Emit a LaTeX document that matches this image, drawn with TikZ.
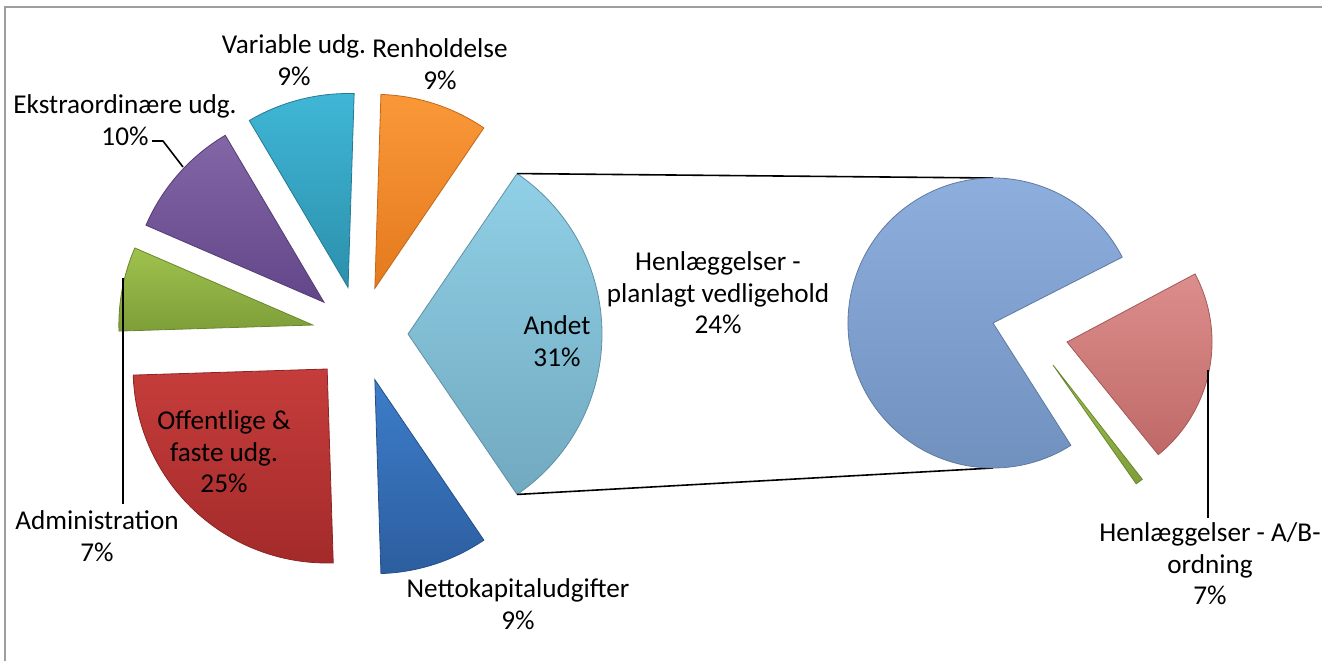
\documentclass[tikz,border=0pt]{standalone}
\usepackage{fontspec}
\setmainfont{Carlito}
\usetikzlibrary{calc}
\definecolor{andT}{HTML}{90D0E6}\definecolor{andB}{HTML}{71A9C0}
\definecolor{renT}{HTML}{FA9838}\definecolor{renB}{HTML}{E47A1E}
\definecolor{varT}{HTML}{40B6D6}\definecolor{varB}{HTML}{2B90AC}
\definecolor{eksT}{HTML}{8266A6}\definecolor{eksB}{HTML}{634689}
\definecolor{admT}{HTML}{9FC24E}\definecolor{admB}{HTML}{7E9E38}
\definecolor{offT}{HTML}{C53D3B}\definecolor{offB}{HTML}{A32A2A}
\definecolor{netT}{HTML}{3D7DCA}\definecolor{netB}{HTML}{2C5E9F}
\definecolor{plaT}{HTML}{90B0E0}\definecolor{plaB}{HTML}{7090BE}
\definecolor{abT}{HTML}{DC8E8C}\definecolor{abB}{HTML}{BF6967}
% slice: style, apex, from, to, radius, name (angles counted anticlockwise)
\newcommand\pslice[6]{%
  \coordinate (#6) at (#2);
  \coordinate (#6-1) at ($(#6)+({-(#3)}:#5)$);
  \coordinate (#6-2) at ($(#6)+({-(#4)}:#5)$);
  \path[#1] (#6) -- (#6-1) arc[start angle={-(#3)}, end angle={-(#4)}, radius=#5] -- cycle;}
% exploded slice of the main pie
\newcommand\mslice[4]{\pslice{#1}{$(C)+({-(#2+#3)/2}:48)$}{#2}{#3}{194}{#4}}
\begin{document}
\begin{tikzpicture}[x=0.5pt,y=-0.5pt,
  lbl/.style={align=center,font=\fontsize{13.6}{15.8}\selectfont,inner sep=0pt},
  lead/.style={line width=0.8pt},
  shd/.style 2 args={top color=#1,bottom color=#2,draw=#2!85!black,line width=0.4pt}]
\useasboundingbox (0,0) rectangle (1322,660);
\draw[black!38,line width=1pt](5,670)--(5,7)--(1330,7);
\coordinate (C) at (360,334);
\coordinate (C2) at (993,323);
\coordinate (pT) at ($(C2)+(-90:145)$);
\coordinate (pB) at ($(C2)+(90:145)$);
% main pie
\mslice{shd={andT}{andB}}{-55.8}{55.8}{sAnd}
\mslice{shd={renT}{renB}}{55.8}{88.2}{sRen}
\mslice{shd={varT}{varB}}{88.2}{120.6}{sVar}
\mslice{shd={eksT}{eksB}}{120.6}{156.6}{sEks}
\mslice{shd={admT}{admB}}{156.6}{181.8}{sAdm}
\mslice{shd={offT}{offB}}{181.8}{271.8}{sOff}
\mslice{shd={netT}{netB}}{271.8}{304.2}{sNet}
% second pie
\draw[lead] (sAnd-2) -- (pT);
\draw[lead] (sAnd-1) -- (pB);
\pslice{shd={plaT}{plaB}}{C2}{27}{302.5}{145}{sPla}
\pslice{shd={abT}{abB}}{1067,342}{-51}{28}{145}{sAB}
\pslice{shd={admT}{admB}}{1053,365}{-55}{-52}{145}{sRest}
% labels
\node[lbl] (nVar) at (294,60) {Variable udg.\\9\%};
\node[lbl] (nRen) at (440,64) {Renholdelse\\9\%};
\node[lbl] (nEks) at (125,120) {Ekstraordinære udg.\\10\%};
\node[lbl] (nAdm) at (97,536) {Administration\\7\%};
\node[lbl] (nOff) at (224,452) {Offentlige \&\\faste udg.\\25\%};
\node[lbl] (nNet) at (518,604) {Nettokapitaludgifter\\9\%};
\node[lbl] (nAnd) at (557,341) {Andet\\31\%};
\node[lbl] (nPla) at (718,293) {Henlæggelser -\\planlagt vedligehold\\24\%};
\node[lbl] (nAB) at (1210,564) {Henlæggelser - A/B-\\ordning\\7\%};
% leader lines
\coordinate (eksA) at (152,141);\coordinate (eksB) at (183,167);
\draw[lead] (eksA) -- ++(11,0) -- (eksB);
\coordinate (admA) at (123,278);
\draw[lead] (admA) -- (admA |- 0,504);
\coordinate (abA) at (1208,370);
\draw[lead] (abA) -- (abA |- 0,518);
\end{tikzpicture}
\end{document}
